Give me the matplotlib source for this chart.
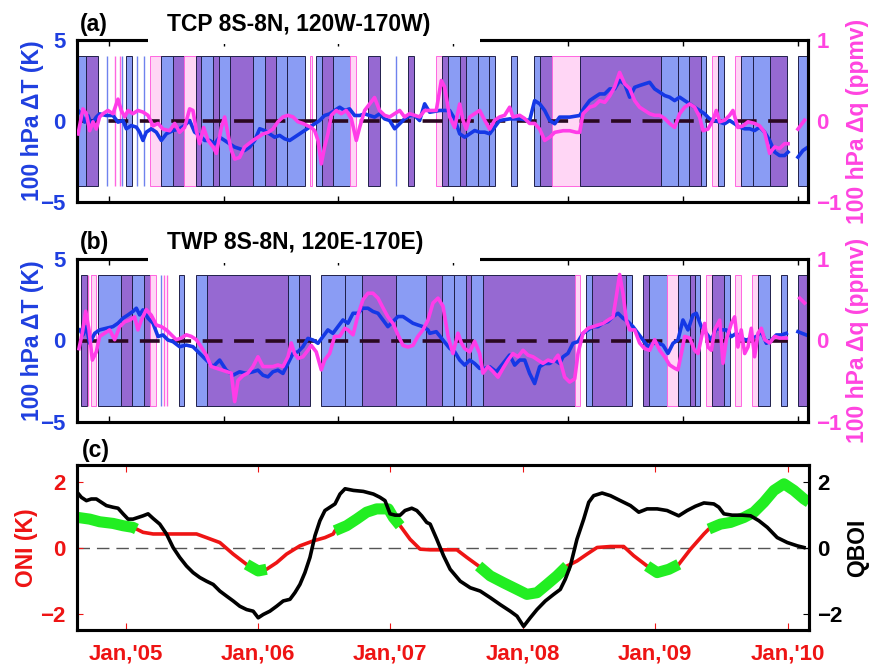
import numpy as np
import matplotlib.pyplot as plt
from matplotlib.patches import Rectangle

plt.rcParams['font.family'] = ['Liberation Sans', 'DejaVu Sans']
plt.rcParams['font.weight'] = 'bold'

# time axis (decimal years)
t_start, t_end = 2004.632, 2010.162
top_ticks = [2004.871, 2005.741, 2006.606, 2007.476, 2008.346, 2009.216, 2010.086]
year_ticks = [2005, 2006, 2007, 2008, 2009, 2010]
year_labels = ["Jan,'05", "Jan,'06", "Jan,'07", "Jan,'08", "Jan,'09", "Jan,'10"]
nan = np.nan

# ---------------- (a) TCP 8S-8N, 120W-170W ----------------
tcp_dt = [
    (2004.640, 0.65), (2004.665, 0.44), (2004.690, -0.07), (2004.715, 0.34), (2004.740, -0.22),
    (2004.778, 0.24), (2004.803, 0.44), (2004.854, 0.34), (2004.904, 0.34), (2004.942, -0.07),
    (2004.980, 0.03), (2005.005, -0.48), (2005.043, -0.28), (2005.081, -0.38), (2005.106, -0.69),
    (2005.131, -1.20), (2005.156, -0.69), (2005.194, -0.48), (2005.232, -0.69), (2005.270, -1.20),
    (2005.308, -0.79), (2005.358, -0.59), (2005.408, -0.48), (2005.446, -0.28), (2005.484, 0.03),
    (2005.522, -0.69), (2005.560, -0.89), (2005.598, -1.20), (2005.636, -1.20), (2005.673, -1.41),
    (2005.711, -1.00), (2005.749, -1.20), (2005.787, -1.41), (2005.825, -1.61), (2005.862, -1.71),
    (2005.900, -1.82), (2005.938, -1.61), (2005.976, -1.20), (2006.014, -0.48), (2006.052, -0.59),
    (2006.089, -0.79), (2006.127, -1.00), (2006.165, -0.89), (2006.203, -1.10), (2006.241, -1.20),
    (2006.278, -1.00), (2006.316, -0.79), (2006.354, -0.59), (2006.392, -0.38), (2006.430, -0.17),
    (2006.467, 0.03), (2006.505, 0.34), (2006.543, 0.44), (2006.581, 0.65), (2006.619, 0.85),
    (2006.657, 0.65), (2006.694, 0.75), (2006.732, 0.34), (2006.770, 0.34), (2006.808, 0.44),
    (2006.846, 0.34), (2006.883, 0.24), (2006.921, 0.44), (2006.959, 0.13), (2006.997, 0.03),
    (2007.035, -0.48), (2007.073, -0.17), (2007.110, 0.13), (2007.148, 0.34), (2007.186, 0.34),
    (2007.224, 0.03), (2007.262, 1.06), (2007.300, 0.54), (2007.376, 0.65), (2007.451, 0.65),
    (2007.489, 0.13), (2007.527, -0.79), (2007.565, -1.00), (2007.603, -0.79), (2007.640, -0.59),
    (2007.678, -0.69), (2007.716, -0.69), (2007.754, -0.79), (2007.792, -0.38), (2007.829, 0.03),
    (2007.905, 0.13), (2007.981, 0.13), (2008.056, 0.03), (2008.094, 1.26), (2008.132, 1.06),
    (2008.170, 0.65), (2008.208, 0.03), (2008.246, -0.17), (2008.283, 0.24), (2008.359, 0.24),
    (2008.435, 0.34), (2008.472, 0.85), (2008.510, 1.26), (2008.548, 1.47), (2008.586, 1.67),
    (2008.624, 1.67), (2008.662, 1.98), (2008.699, 1.98), (2008.737, 2.49), (2008.775, 2.29),
    (2008.813, 1.47), (2008.851, 2.08), (2008.888, 2.19), (2008.926, 2.29), (2008.964, 2.39),
    (2009.002, 1.98), (2009.040, 1.78), (2009.078, 1.57), (2009.115, 1.47), (2009.153, 1.26),
    (2009.191, 1.47), (2009.229, 1.26), (2009.267, 1.06), (2009.304, 0.85), (2009.342, 0.65),
    (2009.380, 0.44), (2009.418, 0.13), (2009.456, 0.03), (2009.494, -0.07), (2009.531, -0.17),
    (2009.569, 0.03), (2009.607, -0.17), (2009.645, -0.38), (2009.683, -0.48), (2009.721, -0.48),
    (2009.758, -0.59), (2009.796, -0.38), (2009.834, -0.69), (2009.872, -1.20), (2009.910, -1.92),
    (2009.947, -2.13), (2009.985, -2.13), (2010.011, -1.92), (2010.050, nan), (2010.086, -2.23),
    (2010.124, -1.82), (2010.162, -1.61),
]
tcp_dq = [
    (2004.640, -0.16), (2004.677, 0.15), (2004.703, 0.09), (2004.728, -0.12), (2004.753, -0.01),
    (2004.778, -0.10), (2004.803, 0.05), (2004.829, 0.09), (2004.866, 0.13), (2004.904, 0.09),
    (2004.942, 0.27), (2004.967, 0.13), (2004.993, 0.05), (2005.018, 0.13), (2005.055, 0.09),
    (2005.093, 0.13), (2005.131, 0.11), (2005.169, 0.07), (2005.207, -0.06), (2005.245, -0.03),
    (2005.282, -0.10), (2005.333, -0.12), (2005.371, -0.03), (2005.408, -0.14), (2005.446, -0.08),
    (2005.484, 0.15), (2005.509, 0.13), (2005.535, -0.12), (2005.560, -0.28), (2005.590, -0.08),
    (2005.623, -0.24), (2005.661, -0.32), (2005.686, -0.40), (2005.724, -0.08), (2005.749, 0.05),
    (2005.774, -0.16), (2005.799, -0.36), (2005.825, -0.47), (2005.862, -0.45), (2005.900, -0.32),
    (2005.963, -0.24), (2006.001, -0.20), (2006.039, -0.16), (2006.077, -0.14), (2006.114, -0.10),
    (2006.152, -0.01), (2006.190, 0.05), (2006.228, 0.07), (2006.266, 0.05), (2006.304, -0.01),
    (2006.341, -0.03), (2006.379, -0.06), (2006.404, -0.08), (2006.430, -0.12), (2006.455, -0.24),
    (2006.480, -0.53), (2006.505, -0.32), (2006.530, -0.16), (2006.556, 0.07), (2006.593, 0.13),
    (2006.631, 0.09), (2006.669, 0.13), (2006.707, 0.03), (2006.745, -0.24), (2006.770, -0.08),
    (2006.808, 0.13), (2006.846, 0.21), (2006.883, 0.29), (2006.921, 0.13), (2006.959, 0.07),
    (2006.997, 0.05), (2007.035, 0.09), (2007.073, 0.13), (2007.110, 0.05), (2007.148, 0.09),
    (2007.186, 0.07), (2007.224, 0.05), (2007.262, 0.13), (2007.300, 0.13), (2007.350, 0.13),
    (2007.388, 0.50), (2007.413, 0.42), (2007.451, 0.05), (2007.489, -0.08), (2007.527, 0.21),
    (2007.552, 0.01), (2007.577, -0.10), (2007.603, 0.05), (2007.640, 0.09), (2007.678, 0.13),
    (2007.716, 0.01), (2007.754, -0.10), (2007.792, 0.01), (2007.829, 0.05), (2007.867, 0.07),
    (2007.905, 0.17), (2007.930, 0.05), (2007.981, 0.07), (2008.019, 0.03), (2008.056, -0.03),
    (2008.094, -0.03), (2008.132, -0.10), (2008.170, -0.24), (2008.208, -0.20), (2008.246, -0.14),
    (2008.309, -0.12), (2008.359, -0.12), (2008.409, -0.14), (2008.435, -0.14), (2008.460, 0.09),
    (2008.510, 0.17), (2008.548, 0.19), (2008.586, 0.25), (2008.624, 0.23), (2008.662, 0.31),
    (2008.699, 0.42), (2008.737, 0.60), (2008.775, 0.46), (2008.813, 0.40), (2008.851, 0.25),
    (2008.888, 0.17), (2008.926, 0.13), (2008.964, 0.09), (2009.002, 0.07), (2009.040, 0.07),
    (2009.078, 0.03), (2009.115, -0.03), (2009.153, -0.08), (2009.191, 0.09), (2009.229, 0.17),
    (2009.267, 0.21), (2009.304, 0.17), (2009.342, 0.05), (2009.368, -0.12), (2009.405, -0.10),
    (2009.443, 0.01), (2009.468, 0.13), (2009.494, -0.01), (2009.531, 0.01), (2009.569, 0.07),
    (2009.594, 0.13), (2009.632, -0.08), (2009.670, -0.06), (2009.708, -0.01), (2009.758, -0.03),
    (2009.796, -0.06), (2009.834, -0.14), (2009.872, -0.40), (2009.910, -0.32), (2009.947, -0.34),
    (2009.985, -0.28), (2010.011, -0.28), (2010.050, nan), (2010.086, -0.10), (2010.136, 0.01),
]
# shaded periods: T = temperature, Q = water vapour, B = both
tcp_bars = [
    (2004.632, 2004.698, 'T'), (2004.698, 2004.793, 'B'), (2005.005, 2005.050, 'T'),
    (2005.182, 2005.270, 'Q'), (2005.270, 2005.358, 'T'), (2005.358, 2005.441, 'B'),
    (2005.441, 2005.530, 'Q'), (2005.530, 2005.572, 'B'), (2005.572, 2005.661, 'T'),
    (2005.661, 2005.704, 'B'), (2005.704, 2005.792, 'T'), (2005.792, 2005.963, 'B'),
    (2005.963, 2006.052, 'T'), (2006.052, 2006.135, 'B'), (2006.135, 2006.220, 'T'),
    (2006.220, 2006.354, 'T'), (2006.392, 2006.409, 'Q'), (2006.437, 2006.488, 'T'),
    (2006.488, 2006.568, 'B'), (2006.568, 2006.699, 'T'), (2006.699, 2006.745, 'Q'),
    (2006.833, 2006.921, 'B'), (2007.136, 2007.181, 'B'), (2007.350, 2007.396, 'Q'),
    (2007.396, 2007.439, 'B'), (2007.439, 2007.527, 'T'), (2007.527, 2007.572, 'B'),
    (2007.572, 2007.666, 'T'), (2007.666, 2007.749, 'T'), (2007.749, 2007.792, 'T'),
    (2007.918, 2007.963, 'T'), (2008.089, 2008.137, 'T'), (2008.137, 2008.225, 'B'),
    (2008.225, 2008.440, 'Q'), (2008.440, 2009.047, 'B'), (2009.047, 2009.178, 'T'),
    (2009.178, 2009.262, 'T'), (2009.262, 2009.355, 'B'), (2009.355, 2009.393, 'T'),
    (2009.436, 2009.481, 'Q'), (2009.481, 2009.526, 'T'), (2009.607, 2009.657, 'Q'),
    (2009.657, 2009.746, 'T'), (2009.746, 2009.872, 'T'), (2009.872, 2010.006, 'B'),
    (2010.086, 2010.162, 'T'),
]
tcp_single = [(2004.860, 'T'), (2004.917, 'Q'), (2004.960, 'Q'), (2004.970, 'T'),
              (2005.086, 'T'), (2005.136, 'T'), (2007.049, 'T')]

# ---------------- (b) TWP 8S-8N, 120E-170E ----------------
twp_dt = [
    (2004.652, 0.65), (2004.677, 0.34), (2004.703, 0.85), (2004.728, -0.17), (2004.766, 0.44),
    (2004.803, 0.65), (2004.854, 0.75), (2004.904, 0.85), (2004.942, 1.06), (2004.980, 1.37),
    (2005.018, 1.57), (2005.055, 1.78), (2005.081, 1.98), (2005.106, 1.57), (2005.131, 1.88),
    (2005.169, 1.37), (2005.207, 1.06), (2005.245, 0.24), (2005.282, 0.34), (2005.320, 0.03),
    (2005.358, -0.07), (2005.408, -0.38), (2005.459, -0.28), (2005.509, -0.38), (2005.560, -0.79),
    (2005.610, -1.20), (2005.661, -1.61), (2005.711, -1.20), (2005.761, -1.82), (2005.812, -2.13),
    (2005.862, -1.92), (2005.913, -2.02), (2005.963, -1.92), (2006.001, -1.82), (2006.039, -2.13),
    (2006.077, -2.23), (2006.114, -1.92), (2006.152, -1.82), (2006.190, -2.02), (2006.228, -1.41),
    (2006.266, -0.79), (2006.304, -0.69), (2006.341, -0.38), (2006.379, 0.13), (2006.417, 0.03),
    (2006.455, -0.17), (2006.493, 0.24), (2006.530, 0.65), (2006.568, 0.44), (2006.606, 0.85),
    (2006.644, 1.26), (2006.682, 1.06), (2006.720, 1.67), (2006.757, 1.67), (2006.795, 1.98),
    (2006.833, 1.98), (2006.871, 1.78), (2006.909, 1.67), (2006.947, 1.26), (2006.984, 0.85),
    (2007.022, 1.16), (2007.060, 1.47), (2007.098, 1.47), (2007.136, 1.26), (2007.173, 1.06),
    (2007.211, 0.95), (2007.249, 0.85), (2007.287, 0.65), (2007.300, 0.44), (2007.350, 0.54),
    (2007.401, 0.03), (2007.451, -0.48), (2007.489, -0.69), (2007.527, -1.20), (2007.565, -1.51),
    (2007.603, -1.20), (2007.640, -1.41), (2007.678, -1.71), (2007.716, -1.71), (2007.754, -1.61),
    (2007.804, -1.92), (2007.855, -1.41), (2007.905, -0.89), (2007.943, -1.51), (2007.981, -1.20),
    (2008.019, -1.20), (2008.056, -2.02), (2008.094, -2.64), (2008.132, -1.61), (2008.170, -1.41),
    (2008.208, -1.41), (2008.246, -1.20), (2008.283, -1.41), (2008.309, -1.00), (2008.346, -0.79),
    (2008.384, -0.17), (2008.422, -0.07), (2008.460, 0.44), (2008.498, 0.65), (2008.535, 0.85),
    (2008.573, 0.85), (2008.611, 1.06), (2008.649, 1.16), (2008.687, 1.47), (2008.725, 1.67),
    (2008.762, 1.37), (2008.800, 1.16), (2008.838, 0.85), (2008.876, 0.44), (2008.914, 0.03),
    (2008.952, -0.38), (2008.989, -0.17), (2009.027, -0.17), (2009.065, -0.28), (2009.103, -0.79),
    (2009.141, -0.17), (2009.178, 0.03), (2009.216, 1.26), (2009.254, 0.65), (2009.292, 1.57),
    (2009.317, 1.67), (2009.355, 0.85), (2009.393, 0.44), (2009.431, 0.03), (2009.468, 0.75),
    (2009.506, 0.65), (2009.544, 0.65), (2009.582, 0.24), (2009.620, 0.44), (2009.657, 0.13),
    (2009.695, 0.03), (2009.733, 0.13), (2009.771, 0.24), (2009.809, 0.54), (2009.847, -0.17),
    (2009.884, 0.03), (2009.922, 0.34), (2009.960, 0.34), (2009.998, 0.44), (2010.050, nan),
    (2010.086, 0.54), (2010.149, 0.34),
]
twp_dq = [
    (2004.647, -0.10), (2004.672, 0.09), (2004.698, 0.36), (2004.723, 0.13), (2004.748, -0.24),
    (2004.778, -0.14), (2004.803, 0.05), (2004.841, 0.09), (2004.879, 0.13), (2004.917, 0.01),
    (2004.955, 0.17), (2004.993, 0.23), (2005.030, 0.25), (2005.068, 0.29), (2005.093, 0.13),
    (2005.119, 0.25), (2005.156, 0.38), (2005.194, 0.31), (2005.232, 0.19), (2005.270, 0.17),
    (2005.308, 0.13), (2005.345, 0.07), (2005.383, 0.01), (2005.421, 0.03), (2005.459, 0.07),
    (2005.497, 0.05), (2005.535, 0.01), (2005.572, -0.08), (2005.610, -0.18), (2005.648, -0.32),
    (2005.686, -0.34), (2005.724, -0.36), (2005.761, -0.38), (2005.799, -0.40), (2005.825, -0.75),
    (2005.850, -0.49), (2005.888, -0.43), (2005.925, -0.40), (2005.963, -0.32), (2006.001, -0.20),
    (2006.039, -0.32), (2006.077, -0.32), (2006.114, -0.32), (2006.152, -0.30), (2006.190, -0.32),
    (2006.228, -0.20), (2006.253, -0.03), (2006.278, -0.16), (2006.304, -0.22), (2006.341, -0.20),
    (2006.379, -0.12), (2006.404, -0.06), (2006.442, -0.14), (2006.480, -0.36), (2006.505, -0.24),
    (2006.543, -0.16), (2006.581, 0.05), (2006.619, 0.05), (2006.657, 0.15), (2006.682, 0.13),
    (2006.720, 0.07), (2006.757, 0.31), (2006.795, 0.50), (2006.833, 0.58), (2006.871, 0.58),
    (2006.909, 0.52), (2006.947, 0.40), (2006.984, 0.29), (2007.022, 0.21), (2007.060, 0.07),
    (2007.098, -0.06), (2007.136, -0.08), (2007.173, -0.06), (2007.211, 0.05), (2007.249, 0.13),
    (2007.287, 0.25), (2007.325, 0.46), (2007.363, 0.52), (2007.401, 0.42), (2007.439, 0.05),
    (2007.476, -0.16), (2007.514, 0.09), (2007.540, -0.03), (2007.565, -0.10), (2007.603, -0.14),
    (2007.640, -0.01), (2007.678, -0.16), (2007.703, -0.40), (2007.741, -0.32), (2007.779, -0.38),
    (2007.817, -0.45), (2007.855, -0.34), (2007.893, -0.24), (2007.930, -0.16), (2007.968, -0.20),
    (2008.006, -0.12), (2008.044, -0.18), (2008.082, -0.20), (2008.119, -0.24), (2008.157, -0.28),
    (2008.195, -0.24), (2008.233, -0.26), (2008.271, -0.18), (2008.296, -0.30), (2008.321, -0.45),
    (2008.359, -0.51), (2008.397, -0.47), (2008.422, -0.16), (2008.460, 0.09), (2008.498, 0.15),
    (2008.535, 0.17), (2008.573, 0.19), (2008.611, 0.21), (2008.649, 0.25), (2008.687, 0.29),
    (2008.712, 0.54), (2008.737, 0.81), (2008.762, 0.58), (2008.788, 0.25), (2008.813, 0.13),
    (2008.851, 0.13), (2008.888, -0.03), (2008.926, -0.10), (2008.964, -0.12), (2009.002, 0.01),
    (2009.040, -0.12), (2009.078, -0.20), (2009.115, -0.30), (2009.153, -0.34), (2009.178, -0.36),
    (2009.204, -0.16), (2009.229, 0.05), (2009.267, 0.03), (2009.304, -0.12), (2009.330, -0.16),
    (2009.355, 0.03), (2009.380, 0.21), (2009.405, -0.08), (2009.431, -0.12), (2009.456, 0.13),
    (2009.494, 0.25), (2009.519, -0.28), (2009.544, 0.01), (2009.582, 0.21), (2009.607, 0.29),
    (2009.632, -0.08), (2009.657, 0.13), (2009.683, -0.16), (2009.708, -0.08), (2009.733, 0.15),
    (2009.758, -0.20), (2009.784, 0.09), (2009.809, 0.15), (2009.834, 0.01), (2009.872, -0.03),
    (2009.910, 0.05), (2009.947, 0.03), (2009.998, 0.03), (2010.050, nan), (2010.099, 0.52),
    (2010.136, 0.46),
]
twp_bars = [
    (2004.660, 2004.708, 'B'), (2004.740, 2004.778, 'Q'), (2004.791, 2004.967, 'T'),
    (2004.967, 2005.050, 'B'), (2005.050, 2005.139, 'T'), (2005.139, 2005.182, 'B'),
    (2005.182, 2005.232, 'Q'), (2005.401, 2005.441, 'T'), (2005.530, 2005.615, 'T'),
    (2005.615, 2006.228, 'B'), (2006.228, 2006.311, 'T'), (2006.311, 2006.397, 'B'),
    (2006.480, 2006.662, 'T'), (2006.662, 2006.790, 'T'), (2006.790, 2007.047, 'B'),
    (2007.047, 2007.274, 'T'), (2007.274, 2007.396, 'B'), (2007.396, 2007.482, 'T'),
    (2007.482, 2007.572, 'T'), (2007.572, 2007.615, 'B'), (2007.615, 2007.703, 'T'),
    (2007.703, 2008.397, 'B'), (2008.397, 2008.440, 'Q'), (2008.485, 2008.528, 'T'),
    (2008.528, 2008.788, 'B'), (2008.788, 2008.833, 'T'), (2008.914, 2008.959, 'B'),
    (2008.959, 2009.095, 'T'), (2009.095, 2009.178, 'Q'), (2009.178, 2009.267, 'T'),
    (2009.267, 2009.310, 'B'), (2009.310, 2009.347, 'T'), (2009.393, 2009.438, 'Q'),
    (2009.438, 2009.526, 'B'), (2009.526, 2009.569, 'T'), (2009.612, 2009.657, 'Q'),
    (2009.741, 2009.784, 'Q'), (2009.784, 2009.872, 'T'), (2009.960, 2010.006, 'T'),
    (2010.086, 2010.162, 'B'),
]
twp_single = [(2004.715, 'Q'), (2005.270, 'T'), (2005.290, 'Q'), (2005.313, 'Q')]

# ---------------- (c) ONI and QBO index ----------------
oni = [
    (2004.640, 0.91), (2004.728, 0.86), (2004.803, 0.78), (2004.904, 0.73), (2004.980, 0.66),
    (2005.055, 0.61), (2005.081, 0.56), (2005.131, 0.46), (2005.207, 0.41), (2005.308, 0.41),
    (2005.459, 0.41), (2005.535, 0.41), (2005.610, 0.30), (2005.711, 0.15), (2005.812, -0.20),
    (2005.913, -0.51), (2006.001, -0.71), (2006.064, -0.66), (2006.140, -0.46), (2006.215, -0.20),
    (2006.316, 0.05), (2006.417, 0.20), (2006.505, 0.30), (2006.568, 0.41), (2006.581, 0.51),
    (2006.669, 0.66), (2006.745, 0.86), (2006.820, 1.07), (2006.896, 1.17), (2006.984, 1.17),
    (2007.022, 0.91), (2007.073, 0.66), (2007.148, 0.25), (2007.224, -0.05), (2007.300, -0.07),
    (2007.502, -0.07), (2007.577, -0.30), (2007.666, -0.56), (2007.754, -0.86), (2007.855, -1.07),
    (2007.956, -1.27), (2008.031, -1.42), (2008.107, -1.37), (2008.182, -1.12), (2008.258, -0.86),
    (2008.334, -0.56), (2008.409, -0.41), (2008.485, -0.20), (2008.561, 0.00), (2008.662, 0.03),
    (2008.762, 0.03), (2008.838, -0.25), (2008.939, -0.56), (2009.015, -0.76), (2009.103, -0.66),
    (2009.178, -0.51), (2009.267, -0.05), (2009.368, 0.41), (2009.405, 0.56), (2009.494, 0.71),
    (2009.569, 0.76), (2009.670, 0.91), (2009.746, 1.07), (2009.821, 1.37), (2009.897, 1.73),
    (2009.973, 1.93), (2010.048, 1.73), (2010.124, 1.47), (2010.162, 1.37),
]
qboi = [
    (2004.632, 1.68), (2004.665, 1.52), (2004.703, 1.42), (2004.740, 1.47), (2004.778, 1.47),
    (2004.816, 1.37), (2004.854, 1.27), (2004.904, 1.22), (2004.942, 1.19), (2004.980, 1.02),
    (2005.018, 0.86), (2005.055, 0.86), (2005.093, 0.91), (2005.131, 0.96), (2005.169, 1.02),
    (2005.207, 0.88), (2005.257, 0.71), (2005.308, 0.41), (2005.358, 0.00), (2005.408, -0.30),
    (2005.459, -0.56), (2005.509, -0.76), (2005.560, -0.91), (2005.610, -1.02), (2005.661, -1.12),
    (2005.711, -1.32), (2005.761, -1.47), (2005.812, -1.62), (2005.862, -1.78), (2005.913, -1.88),
    (2005.963, -1.93), (2006.001, -2.13), (2006.039, -2.03), (2006.089, -1.93), (2006.140, -1.78),
    (2006.190, -1.62), (2006.241, -1.57), (2006.278, -1.37), (2006.316, -1.12), (2006.354, -0.76),
    (2006.392, -0.30), (2006.430, 0.36), (2006.467, 0.81), (2006.505, 1.12), (2006.543, 1.22),
    (2006.581, 1.32), (2006.619, 1.62), (2006.657, 1.78), (2006.720, 1.73), (2006.795, 1.70),
    (2006.871, 1.62), (2006.921, 1.52), (2006.959, 1.42), (2006.997, 1.02), (2007.035, 0.98),
    (2007.073, 0.98), (2007.110, 1.12), (2007.161, 1.19), (2007.199, 1.12), (2007.236, 0.96),
    (2007.274, 0.76), (2007.300, 0.71), (2007.350, 0.25), (2007.401, -0.25), (2007.451, -0.66),
    (2007.527, -1.02), (2007.603, -1.22), (2007.678, -1.32), (2007.754, -1.52), (2007.829, -1.73),
    (2007.905, -1.93), (2007.956, -2.08), (2008.006, -2.39), (2008.056, -2.13), (2008.107, -1.88),
    (2008.170, -1.62), (2008.233, -1.42), (2008.283, -1.27), (2008.321, -0.96), (2008.359, -0.56),
    (2008.409, 0.25), (2008.460, 0.86), (2008.498, 1.37), (2008.535, 1.57), (2008.599, 1.65),
    (2008.662, 1.57), (2008.737, 1.42), (2008.813, 1.27), (2008.876, 1.07), (2008.939, 1.17),
    (2009.015, 1.17), (2009.090, 1.12), (2009.178, 0.96), (2009.241, 1.12), (2009.304, 1.25),
    (2009.368, 1.35), (2009.443, 1.32), (2009.481, 1.22), (2009.519, 1.02), (2009.582, 0.98),
    (2009.657, 0.98), (2009.721, 0.96), (2009.784, 0.81), (2009.847, 0.61), (2009.922, 0.30),
    (2009.998, 0.15), (2010.074, 0.05), (2010.124, 0.00),
]
enso_threshold = 0.5

# colours
c_dt = '#1538e6'
c_dq = '#ff3ce8'
c_dt_txt = '#1f3fe0'
c_dq_txt = '#ff44e0'
c_red = '#ee1414'
c_green = '#22ee22'
bar_face = {'T': '#8a9cf4', 'B': '#9669d2', 'Q': '#ffd6f5'}
bar_edge = {'T': '#20204a', 'B': '#20204a', 'Q': '#ff66e0'}
single_col = {'T': '#6f82ee', 'Q': '#ff66e0'}

W, H = 870, 671
fig = plt.figure(figsize=(W / 100, H / 100), dpi=100)


def add_axes_px(left, top, right, bottom):
    return fig.add_axes([left / W, 1 - bottom / H, (right - left) / W, (bottom - top) / H])


def style_spines(ax):
    for s in ax.spines.values():
        s.set_linewidth(2.2)
        s.set_color('black')


def draw_region(top_px, bottom_px, dt, dq, bars, singles, letter, title):
    ax = add_axes_px(77, top_px, 808, bottom_px)
    for start, end, kind in bars:
        ax.bar(start, 8, bottom=-4, width=end - start, align='edge',
               color=bar_face[kind], edgecolor=bar_edge[kind], linewidth=0.7, zorder=1)
    for pos, kind in singles:
        ax.vlines(pos, -4, 4, color=single_col[kind], lw=1.0, zorder=1)
    ax.plot([t_start, 2010.01], [0, 0], color='#2a0820', lw=2.6, dashes=(5.5, 3.2), zorder=2)
    d = np.array(dt)
    ax.plot(d[:, 0], d[:, 1], color=c_dt, lw=2.6, zorder=3)
    ax.set_xlim(t_start, t_end)
    ax.set_ylim(-5, 5)
    ax.set_yticks([-5, 0, 5])
    ax.set_xticks(top_ticks)
    ax.tick_params(axis='x', direction='in', length=4, top=True, labelbottom=False, width=1)
    ax.tick_params(axis='y', length=0, pad=8, labelsize=16, labelcolor=c_dt_txt)
    style_spines(ax)

    axq = ax.twinx()
    q = np.array(dq)
    axq.plot(q[:, 0], q[:, 1], color=c_dq, lw=2.6, zorder=3)
    axq.set_ylim(-1, 1)
    axq.set_yticks([-1, 0, 1])
    axq.tick_params(axis='y', length=0, pad=6, labelsize=16, labelcolor=c_dq_txt)
    style_spines(axq)

    mid = (top_px + bottom_px) / 2
    fig.text(33 / W, 1 - mid / H, '100 hPa \u0394T (K)', rotation=90, ha='center', va='center',
             fontsize=16.5, color=c_dt_txt)
    fig.text(858 / W, 1 - mid / H, '100 hPa \u0394q (ppmv)', rotation=90, ha='center', va='center',
             fontsize=16.5, color=c_dq_txt)
    # title sits on a white strip over the top frame
    fig.add_artist(Rectangle(((148) / W, 1 - (top_px + 4) / H), 332 / W, 8 / H,
                             transform=fig.transFigure, facecolor='white', edgecolor='none', zorder=5))
    fig.text(80 / W, 1 - (top_px - 16) / H, letter, ha='left', va='center', fontsize=16.5, zorder=6)
    fig.text(167 / W, 1 - (top_px - 16) / H, title, ha='left', va='center', fontsize=16.5, zorder=6)
    return ax


draw_region(40, 202, tcp_dt, tcp_dq, tcp_bars, tcp_single, '(a)', 'TCP 8S-8N, 120W-170W)')
draw_region(259, 422, twp_dt, twp_dq, twp_bars, twp_single, '(b)', 'TWP 8S-8N, 120E-170E)')

# panel (c)
axc = add_axes_px(77, 465, 809, 630)
axc.axhline(0, color='#555555', lw=1.0, dashes=(9, 5), zorder=1)
o = np.array(oni)
axc.plot(o[:, 0], o[:, 1], color=c_red, lw=2.6, zorder=2)
strong = np.where(np.abs(o[:, 1]) >= enso_threshold, o[:, 1], np.nan)
axc.plot(o[:, 0], strong, color=c_green, lw=8, solid_capstyle='butt', zorder=3)
axc.set_xlim(t_start, t_end)
axc.set_ylim(-2.5, 2.5)
axc.set_yticks([-2, 0, 2])
axc.set_xticks(year_ticks)
axc.set_xticklabels(year_labels)
axc.tick_params(axis='x', direction='in', length=5, top=True, pad=10, labelsize=16,
                labelcolor=c_red, color=c_red)
axc.tick_params(axis='y', direction='in', length=4, pad=8, labelsize=16, labelcolor=c_red, color=c_red)
style_spines(axc)

axr = axc.twinx()
qb = np.array(qboi)
axr.plot(qb[:, 0], qb[:, 1], color='black', lw=2.6, zorder=3)
axr.set_ylim(-2.5, 2.5)
axr.set_yticks([-2, 0, 2])
axr.tick_params(axis='y', direction='in', length=4, pad=6, labelsize=16, labelcolor='black')
style_spines(axr)

fig.text(27 / W, 1 - 548 / H, 'ONI (K)', rotation=90, ha='center', va='center', fontsize=16.5, color=c_red)
fig.text(858 / W, 1 - 548 / H, 'QBOI', rotation=90, ha='center', va='center', fontsize=16.5, color='black')
fig.text(82 / W, 1 - 451 / H, '(c)', ha='left', va='center', fontsize=16.5)

fig.savefig('out.png', dpi=100)
